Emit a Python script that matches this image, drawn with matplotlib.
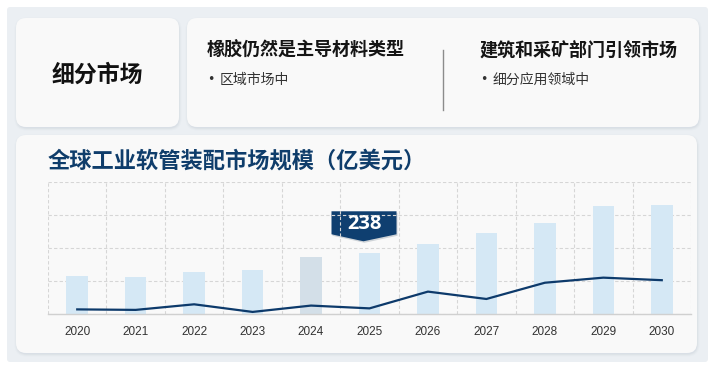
import matplotlib
matplotlib.use("Agg")
import matplotlib.pyplot as plt
from matplotlib.patches import FancyBboxPatch, Polygon
import numpy as np

plt.rcParams['font.family'] = ['Noto Sans CJK SC', 'DejaVu Sans']

# data
years = ['2020', '2021', '2022', '2023', '2024', '2025', '2026', '2027', '2028', '2029', '2030']
market_size = [148, 146, 165, 172, 224, 238, 276, 317, 356, 425, 428]
trend_line = [17, 15, 37, 7, 32, 21, 87, 58, 122, 142, 132]
highlight_year = '2024'
callout_year = '2025'

segment_title = '细分市场'
headings = ['橡胶仍然是主导材料类型', '建筑和采矿部门引领市场']
bullets = ['区域市场中', '细分应用领域中']
chart_title = '全球工业软管装配市场规模（亿美元）'

W, H = 720, 376
fig = plt.figure(figsize=(W / 100, H / 100), dpi=100)
fig.patch.set_facecolor('white')

# background layer in pixel units
bg = fig.add_axes([0, 0, 1, 1])
bg.set_xlim(0, W)
bg.set_ylim(H, 0)
bg.axis('off')


def card(x0, y0, x1, y1, color, r=10, shadow=True):
    if shadow:
        for i, a in enumerate([0.10, 0.07, 0.04]):
            s = FancyBboxPatch((x0 - i + 0.5, y0 + 1.5 - i), x1 - x0 + 2 * i, y1 - y0 + 2 * i,
                               boxstyle=f"round,pad=0,rounding_size={r + i}",
                               fc='#9aa8b6', ec='none', alpha=a, zorder=1)
            bg.add_patch(s)
    p = FancyBboxPatch((x0, y0), x1 - x0, y1 - y0,
                       boxstyle=f"round,pad=0,rounding_size={r}",
                       fc=color, ec='none', zorder=2)
    bg.add_patch(p)


# outer panel
bg.add_patch(FancyBboxPatch((7, 7), 701, 355, boxstyle="round,pad=0,rounding_size=3",
                            fc='#ebeff3', ec='none', zorder=0))
card(16, 18, 179, 127, '#f9f9f9')
card(187, 18, 699, 127, '#f9f9f9')
card(16, 135, 697, 353, '#f9f9f9')

bg.text(97, 75, segment_title, fontsize=16.5, fontweight='bold', color='#111111',
        ha='center', va='center', zorder=3)

for hx, head, bul in zip([207, 480], headings, bullets):
    bg.text(hx, 50, head, fontsize=13, fontweight='bold', color='#151515',
            ha='left', va='center', zorder=3)
    bg.text(hx, 80, '•', fontsize=9, color='#333333',
            ha='left', va='center', zorder=3, family=['DejaVu Sans'])
    bg.text(hx + 13, 80, bul, fontsize=10, color='#333333',
            ha='left', va='center', zorder=3)
bg.plot([443, 443], [50, 110], color='#8c8c8c', lw=1, zorder=3)

bg.text(48, 161, chart_title, fontsize=16, fontweight='bold', color='#0f3d6b',
        ha='left', va='center', zorder=3)

# chart axes
left, right, top, bottom = 48, 691, 181.7, 313.7
ax = fig.add_axes([left / W, 1 - bottom / H, (right - left) / W, (bottom - top) / H])
ax.set_facecolor('none')

x = np.arange(len(years))
colors = ['#d3dfe8' if y == highlight_year else '#d5e8f5' for y in years]
ax.bar(x, market_size, width=0.37, color=colors, zorder=2)
ax.plot(x, trend_line, color='#0d3a6b', lw=1.6, zorder=3, solid_joinstyle='round')

ax.set_xlim(-0.5, len(years) - 0.5)
ax.set_ylim(0, 520)
ax.set_yticks(np.arange(0, 521, 130))
ax.set_xticks(x)
ax.set_xticklabels(years, fontsize=8.5, color='#333333', family=['Liberation Sans', 'DejaVu Sans'])
ax.tick_params(axis='x', length=0, pad=9)
ax.tick_params(axis='y', length=0, labelleft=False)
ax.set_xticks(np.arange(-0.5, len(years), 1), minor=True)
ax.tick_params(axis='x', which='minor', length=0)
ax.grid(axis='y', which='major', color='#d6d6d6', ls=(0, (3, 2)), lw=0.8, zorder=0)
ax.grid(axis='x', which='minor', color='#d6d6d6', ls=(0, (3, 2)), lw=0.8, zorder=0)
ax.grid(axis='x', which='major', visible=False)
for s in ['top', 'left', 'right']:
    ax.spines[s].set_visible(False)
ax.spines['bottom'].set_color('#d0d0d0')
ax.spines['bottom'].set_linewidth(1)

# callout above the highlighted value
ci = years.index(callout_year)
fig.canvas.draw()
px, py = ax.transData.transform((ci, market_size[ci]))
# convert to bg pixel coords (y down)
cx = px - 6
tip_y = H - py - 12
verts = [(cx - 32, tip_y - 30), (cx + 33, tip_y - 30), (cx + 33, tip_y - 7),
         (cx, tip_y), (cx - 32, tip_y - 7)]
bg.add_patch(Polygon([(vx + 1, vy + 1.5) for vx, vy in verts], closed=True,
                     fc='#7f8c99', ec='none', alpha=0.35, zorder=4))
bg.add_patch(Polygon(verts, closed=True, fc='#0f3f70', ec='none', zorder=5))
bg.text(cx + 1, tip_y - 17, str(market_size[ci]), fontsize=14.5, fontweight='bold',
        color='white', ha='center', va='center', zorder=6,
        family=['Open Sans', 'DejaVu Sans'])

fig.savefig('out.png', dpi=100, facecolor='white')
